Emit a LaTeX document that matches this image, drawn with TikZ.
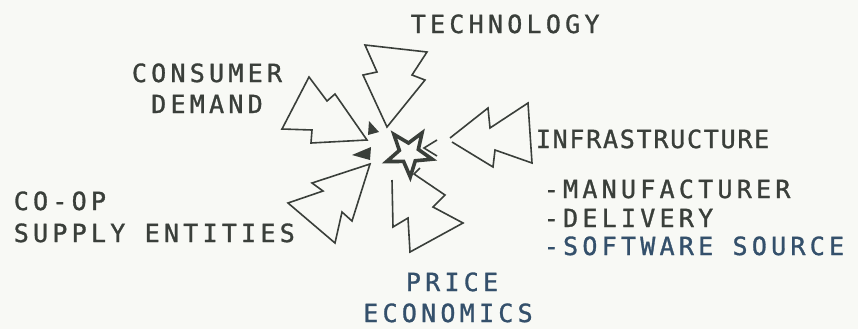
\documentclass[tikz,border=0pt]{standalone}
\usepackage{fontspec}
\newfontfamily\typefont[LetterSpace=17,FakeBold=1.2]{DejaVu Sans Mono}
\newfontfamily\tighttypefont[LetterSpace=7,FakeBold=1.2]{DejaVu Sans Mono}
\definecolor{ink}{HTML}{3A3F3A}
\definecolor{blueink}{HTML}{34506B}
\definecolor{paper}{HTML}{F8F9F5}
\begin{document}
\begin{tikzpicture}
            [
            x = 1bp, y = -1bp,
            line width = 1.6bp,
            ]
            \tikzstyle{word node}=[anchor=base west,inner sep=0,text depth=0pt,text=ink,font=\fontsize{25bp}{31bp}\typefont]
            \tikzstyle{mid word}=[word node,anchor=base]
            \tikzstyle{spark arrow}=[draw=ink,line join=miter]
            \tikzstyle{star line}=[draw=ink,line width=3.6bp,line join=miter]

            \fill[paper] (0,0) rectangle (858,329);
            \useasboundingbox (0,0) rectangle (858,329);

            % the five arrows
            \draw[spark arrow] (365,45) -- (427,52) -- (412,75) -- (425,80) -- (387,127) -- (363,75) -- (377,72) -- cycle;
            \draw[spark arrow] (309,77) -- (327,101) -- (335,94) -- (367,140) -- (311,143) -- (312,130) -- (282,129) -- cycle;
            \draw[spark arrow] (370,164) -- (312,183) -- (323,191) -- (288,203) -- (335,243) -- (342,212) -- (352,221) -- cycle;
            \draw[spark arrow] (392,180) -- (393,227) -- (408,218) -- (410,252) -- (463,223) -- (433,207) -- (445,195) -- (414,174) -- (420,168);
            \draw[spark arrow] (450,138) -- (488,108) -- (490,128) -- (528,103) -- (532,163) -- (495,150) -- (493,167) -- (452,142);

            % the star and the bits round it
            \coordinate (spark) at (409,153);
            \draw[star line] ([shift={(-57:24)}]spark)
                \foreach \i in {0,...,4} { -- ([shift={(-93-72*\i:10)}]spark) -- ([shift={(-129-72*\i:24)}]spark) } -- cycle;
            \fill[ink] (352,155) -- (371,147) -- (370,160) -- cycle;
            \fill[ink] (369,121) -- (379,132) -- (368,135) -- cycle;
            \draw[spark arrow] (437,140) -- (424,148) -- (437,156);

            % labels
            \node[word node] (technology) at (410,33) {TECHNOLOGY};
            \node[mid word] (consumer) at (207,82) {CONSUMER};
            \node[mid word] (demand) at (207,113) {DEMAND};
            \node[word node] (coop) at (13,210) {CO-OP};
            \node[word node] (supply) at (13,242) {SUPPLY ENTITIES};
            \node[mid word,text=blueink] (price) at (452,291) {PRICE};
            \node[mid word,text=blueink] (economics) at (448,322) {ECONOMICS};
            \node[word node,font=\fontsize{25bp}{31bp}\tighttypefont] (infrastructure) at (535,148) {INFRASTRUCTURE};
            \node[word node] (manufacturer) at (543,198) {-MANUFACTURER};
            \node[word node] (delivery) at (543,227) {-DELIVERY};
            \node[word node,text=blueink] (software) at (543,255) {-SOFTWARE SOURCE};
\end{tikzpicture}
\end{document}
